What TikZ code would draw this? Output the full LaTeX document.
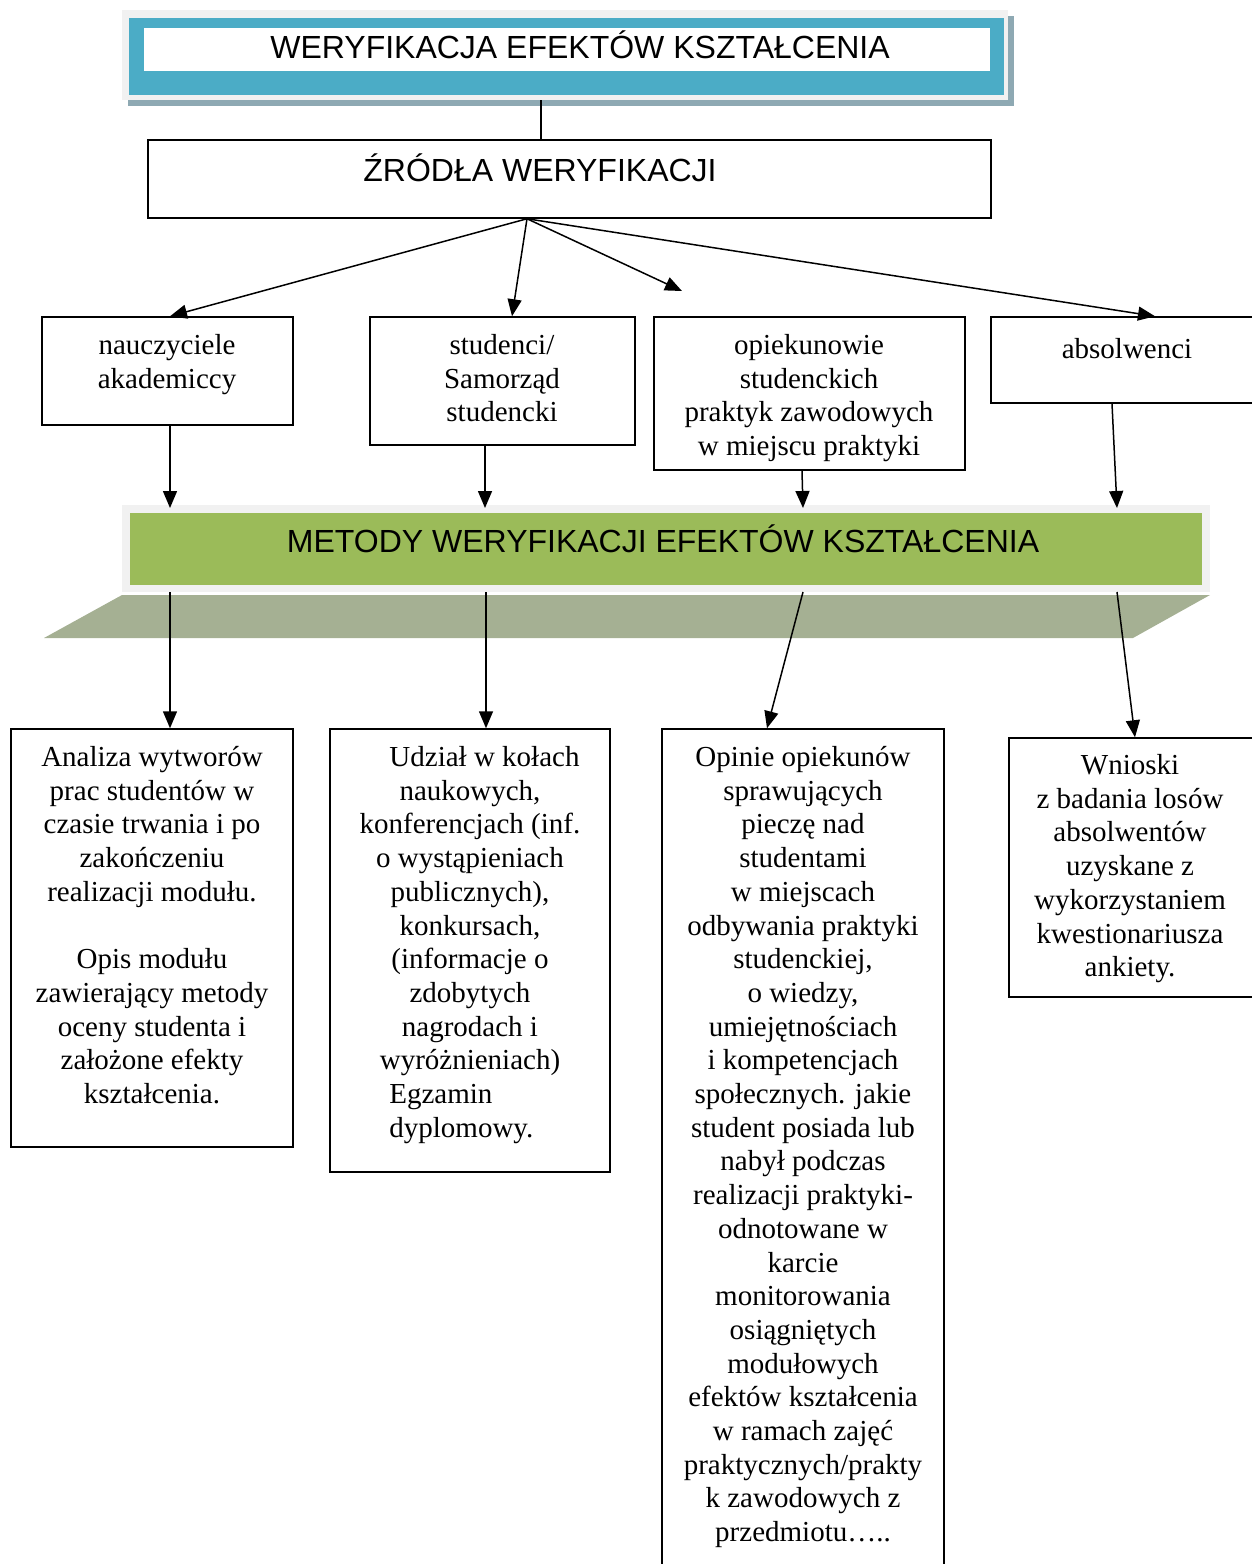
\documentclass[tikz,border=0pt]{standalone}
\usepackage{fontspec}
\setmainfont{Liberation Serif}
\newfontfamily\arialf{Liberation Sans}
\usetikzlibrary{arrows.meta,fit}
\definecolor{framegray}{HTML}{F1F1F1}
\definecolor{titleblue}{HTML}{4BACC6}
\definecolor{shadowblue}{HTML}{8EA9B3}
\definecolor{bargreen}{HTML}{9BBB59}
\definecolor{paragreen}{HTML}{A5B093}
\begin{document}
\begin{tikzpicture}[x=0.5pt,y=-0.5pt,
  box/.style={draw=black,line width=0.75pt,fill=white,inner sep=0pt},
  flat/.style={inner sep=0pt,draw=none},
  arr/.style={line width=0.75pt,-{Triangle[length=8.5pt,width=7pt]}},
  conn/.style={line width=0.75pt},
  txt/.style={align=center,inner sep=0pt,anchor=north,
    font=\fontsize{14.5pt}{16.85pt}\selectfont,execute at begin node=\strut},
  sans/.style={inner sep=0pt,font=\arialf\fontsize{16pt}{19pt}\selectfont,
    text height=11.5pt,text depth=0pt}]
\useasboundingbox (0,0) rectangle (1252,1564);
\clip (0,0) rectangle (1252,1564);

% title
\fill[shadowblue] (128,16) rectangle (1014,106);
\node[flat,fill=framegray,fit={(122,10) (1008,100)}] (tytul) {};
\fill[titleblue] (129,18) rectangle (1004,95);
\fill[white] (144,28) rectangle (990,71);
\node[sans] (tytultxt) at (580,47) {WERYFIKACJA EFEKTÓW KSZTAŁCENIA};

% sources
\node[box,fit={(148,140) (991,218)}] (zrodla) {};
\node[sans] (zrodlatxt) at (540,170) {ŹRÓDŁA WERYFIKACJI};
\draw[conn] (541,0 |- tytul.south) -- (541,0 |- zrodla.north);

\node[box,fit={(42,317) (293,425)}] (n1) {};
\node[box,fit={(370,317) (635,445)}] (n2) {};
\node[box,fit={(654,317) (965,470)}] (n3) {};
\node[box,fit={(991,317) (1262,403)}] (n4) {};
\node[txt] (n1txt) at (167,334) {nauczyciele\\akademiccy};
\node[txt] (n2txt) at (502,334) {studenci/\\Samorząd\\studencki};
\node[txt] (n3txt) at (809,334) {opiekunowie\\studenckich\\praktyk zawodowych\\w miejscu praktyki};
\node[txt] (n4txt) at (1127,335) {absolwenci};

\coordinate (src) at (527,0 |- zrodla.south);
\coordinate (free) at (682,291);
\draw[arr] (src) -- (170,0 |- n1.north);
\draw[arr] (src) -- (512,0 |- n2.north);
\draw[arr] (src) -- (free);
\draw[arr] (src) -- (1155,0 |- n4.north);

% methods bar
\fill[paragreen] (122,595) -- (1210,595) -- (1133,638) -- (44,638) -- cycle;
\node[flat,fill=framegray,fit={(122,505) (1210,592)}] (metody) {};
\fill[bargreen] (130,513) rectangle (1202,585);
\node[sans] (metodytxt) at (663,541) {METODY WERYFIKACJI EFEKTÓW KSZTAŁCENIA};

\draw[arr] (170,0 |- n1.south) -- (170,508);
\draw[arr] (485,0 |- n2.south) -- (485,508);
\draw[arr] (802,0 |- n3.south) -- (803,508);
\draw[arr] (1112,0 |- n4.south) -- (1117,508);

% result boxes
\node[box,fit={(11,729) (293,1147)}] (b1) {};
\node[box,fit={(330,729) (610,1172)}] (b2) {};
\node[box,fit={(662,729) (944,1600)}] (b3) {};
\node[box,fit={(1009,738) (1262,997)}] (b4) {};

\draw[arr] (170,592) -- (170,0 |- b1.north);
\draw[arr] (486,592) -- (486,0 |- b2.north);
\draw[arr] (803,592) -- (767,0 |- b3.north);
\draw[arr] (1117,592) -- (1135,0 |- b4.north);

\node[txt] (b1txt) at (152,746) {Analiza wytworów\\prac studentów w\\czasie trwania i po\\zakończeniu\\realizacji modułu.\\[16.85pt]Opis modułu\\zawierający metody\\oceny studenta i\\założone efekty\\kształcenia.};
\node[txt] (b2txt) at (470,746) {\hspace*{14.5pt}Udział w kołach\\naukowych,\\konferencjach (inf.\\o wystąpieniach\\publicznych),\\konkursach,\\(informacje o\\zdobytych\\nagrodach i\\wyróżnieniach)};
\node[txt,align=left,anchor=north west] (b2txt2) at (389,1084) {Egzamin\\dyplomowy.};
\node[txt] (b3txt) at (803,746) {Opinie opiekunów\\sprawujących\\pieczę nad\\studentami\\w miejscach\\odbywania praktyki\\studenckiej,\\o wiedzy,\\umiejętnościach\\i kompetencjach\\społecznych. jakie\\student posiada lub\\nabył podczas\\realizacji praktyki-\\odnotowane w\\karcie\\monitorowania\\osiągniętych\\modułowych\\efektów kształcenia\\w ramach zajęć\\praktycznych/prakty\\k zawodowych z\\przedmiotu…..};
\node[txt] (b4txt) at (1130,754) {Wnioski\\z badania losów\\absolwentów\\uzyskane z\\wykorzystaniem\\kwestionariusza\\ankiety.};
\end{tikzpicture}
\end{document}
